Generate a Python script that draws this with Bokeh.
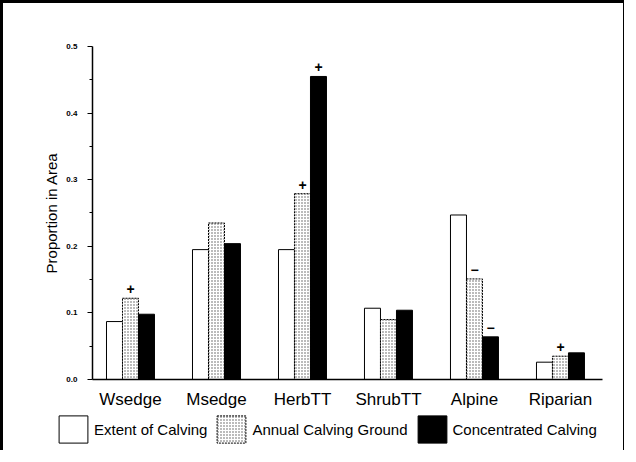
import numpy as np
from bokeh.plotting import figure
from bokeh.models import Range1d, Legend, LegendItem, PrintfTickFormatter, FixedTicker, ColumnDataSource
from bokeh.transform import dodge
from bokeh.core.properties import value
from bokeh.embed import file_html
from bokeh.resources import INLINE

categories = ["Wsedge", "Msedge", "HerbTT", "ShrubTT", "Alpine", "Riparian"]
extent = [0.087, 0.195, 0.195, 0.107, 0.247, 0.026]
annual = [0.122, 0.235, 0.279, 0.090, 0.151, 0.035]
concentrated = [0.098, 0.204, 0.455, 0.104, 0.064, 0.040]
sig_extent = ["", "", "", "", "", ""]
sig_annual = ["+", "", "+", "", "\u2212", "+"]
sig_conc = ["", "", "+", "", "\u2212", ""]
series_names = ["Extent of Calving", "Annual Calving Ground", "Concentrated Calving"]
y_ticks = [0.0, 0.1, 0.2, 0.3, 0.4, 0.5]

idx = list(range(len(categories)))
src = ColumnDataSource(dict(x=idx, ext=extent, ann=annual, con=concentrated,
                            s_ext=sig_extent, s_ann=sig_annual, s_con=sig_conc))

styles = [
    dict(fill_color="white", line_color="black", line_width=1),
    dict(fill_color="white", line_color="black", line_width=1, line_dash="2 1",
         hatch_pattern="dot", hatch_color="#555555", hatch_scale=3, hatch_weight=1),
    dict(fill_color="black", line_color="black", line_width=1),
]

# layout constants (screen geometry)
X0, X1 = -1.186, 5.733
AX_X0, AX_X1 = -0.442, 5.488
p = figure(width=624, height=450, x_range=Range1d(X0, X1), y_range=Range1d(-0.1021, 0.527),
           output_backend="svg", toolbar_location=None,
           min_border_left=25, min_border_top=25, min_border_right=4, min_border_bottom=6)
p.outline_line_color = None
p.xgrid.grid_line_color = None
p.ygrid.grid_line_color = None

w = 0.186
cols = ["ext", "ann", "con"]
sig_cols = ["s_ext", "s_ann", "s_con"]
offs = [-w, 0, w]
rends = []
for off, top, sc, st in zip(offs, cols, sig_cols, styles):
    r = p.vbar(x=dodge("x", off), top=top, width=w, source=src, **st)
    rends.append(r)
    p.text(x=dodge("x", off), y=top, text=sc, source=src,
           y_offset=-4, text_align="center", text_baseline="bottom",
           text_font=value("Liberation Sans"), text_font_style="bold", text_font_size="14px",
           text_color="black")

# y axis
yax = p.yaxis[0]
yax.fixed_location = AX_X0
yax.bounds = (0, 0.5)
yax.ticker = FixedTicker(ticks=y_ticks, minor_ticks=[0.05, 0.15, 0.25, 0.35, 0.45])
yax.formatter = PrintfTickFormatter(format="%.1f")
yax.major_tick_in = 0
yax.major_tick_out = 5
yax.minor_tick_in = 0
yax.minor_tick_out = 3
yax.major_label_text_font = "Liberation Sans"
yax.major_label_text_font_size = "8px"
yax.major_label_text_font_style = "bold"
yax.major_label_text_color = "black"
yax.major_label_standoff = 10
yax.axis_label = "Proportion in Area"
yax.axis_label_text_font = "Liberation Sans"
yax.axis_label_text_font_size = "15px"
yax.axis_label_text_font_style = "normal"
yax.axis_label_text_color = "black"
yax.axis_label_standoff = 3
yax.axis_line_width = 1.5

# x axis
xax = p.xaxis[0]
xax.fixed_location = 0
xax.bounds = (AX_X0, AX_X1)
xax.ticker = FixedTicker(ticks=idx, minor_ticks=[])
xax.major_label_overrides = {i: c for i, c in zip(idx, categories)}
xax.major_tick_line_color = None
xax.minor_tick_line_color = None
xax.major_label_text_font = "Liberation Sans"
xax.major_label_text_font_size = "17px"
xax.major_label_text_color = "black"
xax.major_label_standoff = 5
xax.axis_line_width = 1.5

legend = Legend(items=[LegendItem(label=n, renderers=[r]) for n, r in zip(series_names, rends)],
                location=(27, 1), orientation="horizontal",
                glyph_width=36, glyph_height=34, label_standoff=3, spacing=6,
                padding=0, margin=0, border_line_color=None, background_fill_alpha=0,
                label_text_font="Liberation Sans", label_text_font_size="15px",
                label_text_color="black")
p.add_layout(legend, "center")

p.styles = {"border-top": "3px solid black", "border-left": "3px solid black",
            "border-right": "1px solid black"}

open("out.html", "w").write(file_html(p, INLINE))
